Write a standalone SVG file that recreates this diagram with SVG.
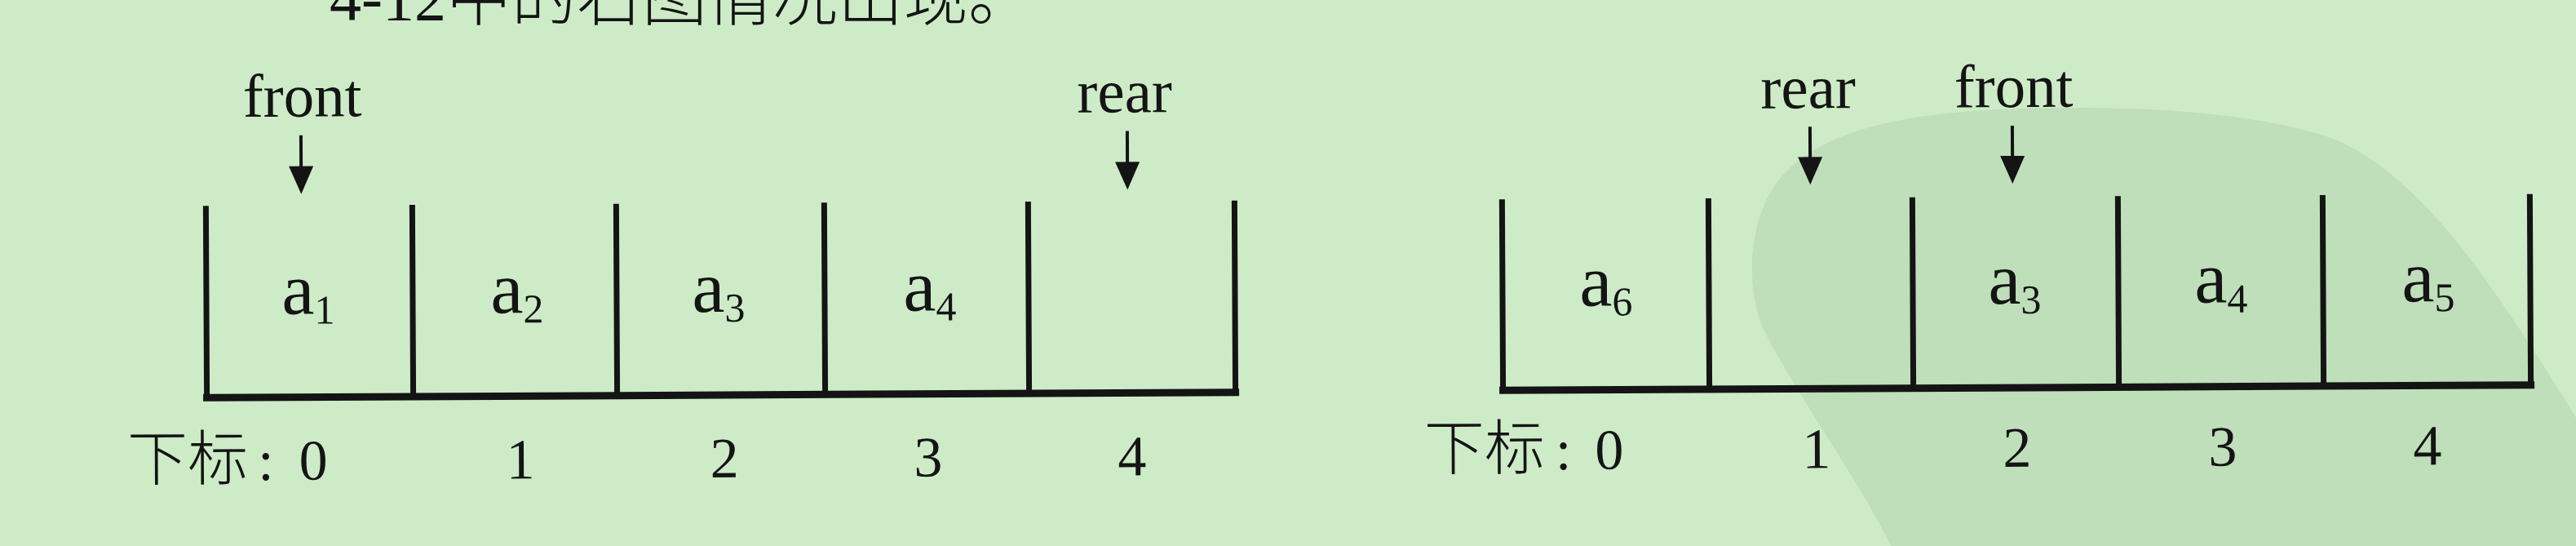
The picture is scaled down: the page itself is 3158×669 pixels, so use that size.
<svg xmlns="http://www.w3.org/2000/svg" width="3158" height="669" viewBox="0 0 3158 669">
<style>
.bg{fill:#cdebc7}
.wm{fill:#bedfb9}
.vl{stroke:#141414;stroke-width:7;fill:none}
.bl{stroke:#141414;stroke-width:9;fill:none;stroke-linecap:square}
.ar{stroke:#141414;stroke-width:4}
.ah{fill:#141414}
.t{font-family:"Liberation Serif","Times New Roman",serif;fill:#141414}
.ptr{font-size:75px;text-anchor:middle}
.cell{font-size:90px;text-anchor:middle}
.idx{font-size:70px;text-anchor:middle}
.cjk{font-family:"Noto Sans CJK SC","Noto Sans CJK JP",sans-serif;fill:#141414;font-weight:300}
</style>
<defs>
<path id="head" d="M-15,-34 L15,-34 L0,0 Z"/>
</defs>
<rect class="bg" x="0" y="0" width="3158" height="669"/>
<path class="wm" d="M2318,669 C2280,590 2200,480 2160,400 C2135,330 2150,250 2190,210 C2240,160 2330,140 2450,134 C2600,128 2760,135 2860,170 C2960,210 3040,330 3100,420 C3130,465 3158,512 3158,512 L3158,669 Z"/>
<text class="t" x="404" y="24" font-size="78">4-12<tspan class="cjk" x="547" font-size="80">中的右图情况出现。</tspan></text>

<g id="queue-left" transform="rotate(-0.3 884 370)">
  <g id="left-frame">
    <path class="vl" d="M253,249 V484 M506,249 V484 M756,249 V484 M1011,249 V484 M1261,249 V484 M1514,249 V484"/>
    <path class="bl" d="M253,484 H1514"/>
  </g>
  <g id="left-cell-0"><text class="t cell" x="378" y="382">a<tspan dy="12" font-size="50">1</tspan></text></g>
  <g id="left-cell-1"><text class="t cell" x="634" y="382">a<tspan dy="12" font-size="50">2</tspan></text></g>
  <g id="left-cell-2"><text class="t cell" x="881" y="382">a<tspan dy="12" font-size="50">3</tspan></text></g>
  <g id="left-cell-3"><text class="t cell" x="1140" y="382">a<tspan dy="12" font-size="50">4</tspan></text></g>
  <g id="left-cell-4"></g>
  <g id="left-index">
    <text class="cjk" x="155" y="585" font-size="74">下标</text>
    <text class="t" x="315" y="585" font-size="70">:</text>
    <text class="t idx" x="383" y="585">0</text>
    <text class="t idx" x="637" y="585">1</text>
    <text class="t idx" x="887" y="585">2</text>
    <text class="t idx" x="1137" y="585">3</text>
    <text class="t idx" x="1387" y="585">4</text>
  </g>
  <g id="left-front"><text class="t ptr" x="372" y="140">front</text></g>
  <g id="left-rear"><text class="t ptr" x="1380" y="140">rear</text></g>
  <g id="left-connectors">
    <line class="ar" x1="370" y1="163" x2="370" y2="205"/>
    <use href="#head" class="ah" x="370" y="235"/>
    <line class="ar" x1="1383" y1="163" x2="1383" y2="205"/>
    <use href="#head" class="ah" x="1383" y="235"/>
  </g>
</g>

<g id="queue-right" transform="rotate(-0.3 2472 360)">
  <g id="right-frame">
    <path class="vl" d="M1842,241 V475 M2095,241 V475 M2345,241 V475 M2597,241 V475 M2848,241 V475 M3102,241 V475"/>
    <path class="bl" d="M1842,475 H3102"/>
  </g>
  <g id="right-cell-0"><text class="t cell" x="1969" y="372">a<tspan dy="12" font-size="50">6</tspan></text></g>
  <g id="right-cell-1"></g>
  <g id="right-cell-2"><text class="t cell" x="2470" y="372">a<tspan dy="12" font-size="50">3</tspan></text></g>
  <g id="right-cell-3"><text class="t cell" x="2723" y="372">a<tspan dy="12" font-size="50">4</tspan></text></g>
  <g id="right-cell-4"><text class="t cell" x="2977" y="372">a<tspan dy="12" font-size="50">5</tspan></text></g>
  <g id="right-index">
    <text class="cjk" x="1745" y="572" font-size="74">下标</text>
    <text class="t" x="1906" y="572" font-size="70">:</text>
    <text class="t idx" x="1972" y="572">0</text>
    <text class="t idx" x="2226" y="572">1</text>
    <text class="t idx" x="2472" y="572">2</text>
    <text class="t idx" x="2724" y="572">3</text>
    <text class="t idx" x="2975" y="572">4</text>
  </g>
  <g id="right-rear"><text class="t ptr" x="2218" y="131">rear</text></g>
  <g id="right-front"><text class="t ptr" x="2470" y="131">front</text></g>
  <g id="right-connectors">
    <line class="ar" x1="2220" y1="154" x2="2220" y2="196"/>
    <use href="#head" class="ah" x="2220" y="225"/>
    <line class="ar" x1="2468" y1="154" x2="2468" y2="196"/>
    <use href="#head" class="ah" x="2468" y="225"/>
  </g>
</g>
</svg>
